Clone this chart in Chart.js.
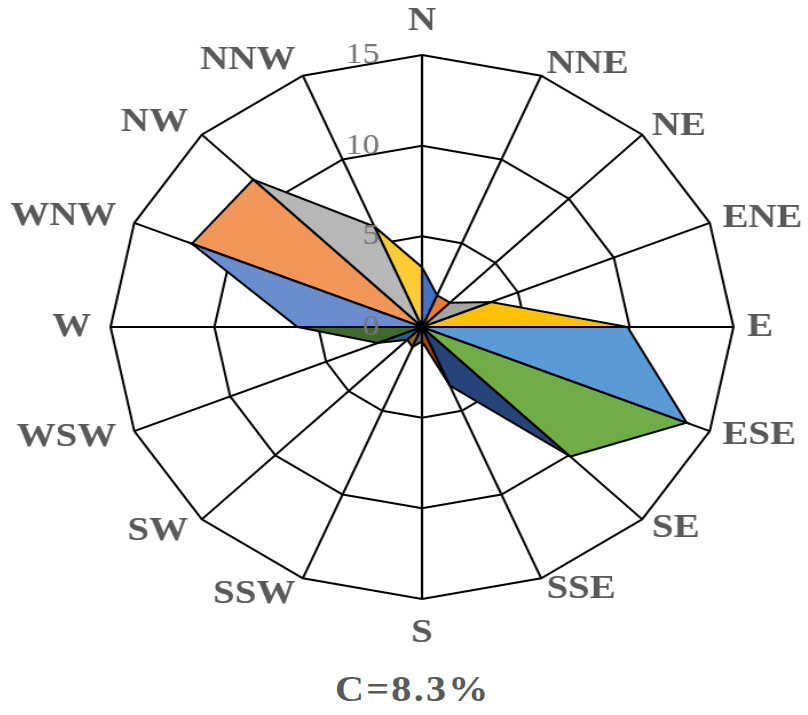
<!DOCTYPE html>
<html>
<head>
<meta charset="utf-8">
<script src="https://cdn.jsdelivr.net/npm/chart.js@4.4.0/dist/chart.umd.min.js"></script>
<style>
  html, body { margin: 0; padding: 0; background: #fff; width: 808px; height: 715px; overflow: hidden; }
  /* the original rose is stretched sideways, so the whole drawing is scaled in x */
  #wrap { position: absolute; left: 0; top: 0; width: 800px; height: 715px;
          transform-origin: 0 0; transform: translateX(-36px) scaleX(1.145); }
  #calm { position: absolute; left: 0; top: 670px; width: 784px; line-height: 40px;
          text-align: center; font: bold 35px "Liberation Serif", "Times New Roman", serif;
          letter-spacing: 2px; color: #595959; }
</style>
</head>
<body>
<div id="wrap">
  <canvas id="rose" width="800" height="654"></canvas>
  <div id="calm"></div>
</div>
<script>
const directions = ["N", "NNE", "NE", "ENE", "E", "ESE", "SE", "SSE",
                    "S", "SSW", "SW", "WSW", "W", "WNW", "NW", "NNW"];
// frequency (%) per direction
const frequency = [3.3, 1.9, 1.9, 3.6, 9.9, 13.8, 10.1, 3.5,
                   0.8, 1.2, 1.0, 2.3, 6.0, 12.0, 11.5, 6.0];
// Excel default series colours, one per sector
const seriesColors = ["#4472C4", "#ED7D31", "#A5A5A5", "#FFC000", "#5B9BD5", "#70AD47",
                      "#264478", "#9E480E", "#636363", "#997300", "#255E91", "#43682B",
                      "#698ED0", "#F1975A", "#B7B7B7", "#FFCD33"];
const rTicks = [0, 5, 10, 15];
const calmText = "C=8.3%";

document.getElementById("calm").textContent = calmText;

// each sector is its own series: value at direction i and i+1, zero elsewhere
const datasets = directions.map((d, i) => {
    const next = (i + 1) % directions.length;
    return {
        label: d + "-" + directions[next],
        data: frequency.map((v, j) => (j === i || j === next) ? v : 0),
        backgroundColor: seriesColors[i],
        borderColor: "#000",
        borderWidth: 2,
        pointRadius: 0,
        fill: true,
    };
});

// direction names and ring values, placed the way Excel does it
const roseText = {
    id: "roseText",
    afterDatasetsDraw(chart) {
        const scale = chart.scales.r;
        const ctx = chart.ctx;
        ctx.save();
        ctx.font = 'bold 34px "Liberation Serif", "Times New Roman", serif';
        ctx.fillStyle = "#595959";
        ctx.textBaseline = "middle";
        directions.forEach((name, i) => {
            const s = Math.sin(scale.getIndexAngle(i));
            let dist = scale.drawingArea + 12;
            if (Math.abs(s) < 0.01) dist += 22;
            else if (s < 0) dist += 5;
            const p = scale.getPointPosition(i, dist);
            ctx.textAlign = Math.abs(s) < 0.01 ? "center" : (s > 0 ? "left" : "right");
            ctx.fillText(name, p.x, p.y);
        });
        ctx.font = '30px "Liberation Serif", "Times New Roman", serif';
        ctx.fillStyle = "#767676";
        ctx.textAlign = "right";
        rTicks.forEach(v => {
            ctx.fillText(String(v), scale.xCenter - 37,
                         scale.yCenter - scale.getDistanceFromCenterForValue(v));
        });
        ctx.restore();
    }
};

const roseCtx = document.getElementById("rose");
window.myRose = new Chart(roseCtx, {
    type: "radar",
    data: { labels: directions, datasets: datasets },
    options: {
        responsive: false,
        animation: false,
        layout: { padding: { top: 55, bottom: 55, left: 0, right: 0 } },
        plugins: { legend: { display: false }, tooltip: { enabled: false } },
        elements: { line: { tension: 0 } },
        scales: {
            r: {
                min: 0,
                max: 15,
                ticks: { display: false, stepSize: 5 },
                grid: { color: "#000", lineWidth: 2 },
                angleLines: { color: "#000", lineWidth: 2 },
                pointLabels: { display: false },
            },
        },
    },
    plugins: [roseText],
});
</script>
</body>
</html>
